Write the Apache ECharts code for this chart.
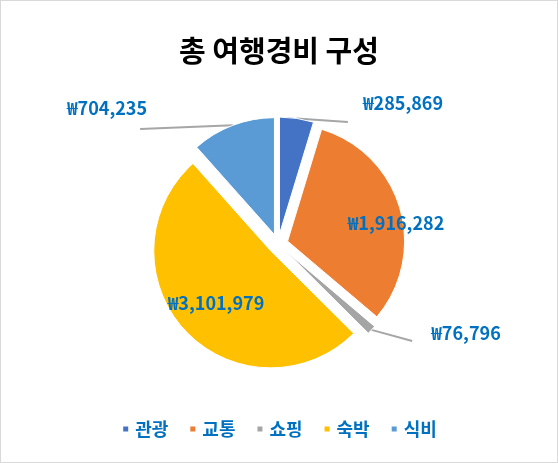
<!DOCTYPE html>
<html><head><meta charset="utf-8">
<script src="https://cdn.jsdelivr.net/npm/echarts@6/dist/echarts.min.js"></script>
<style>html,body{margin:0;padding:0;background:#fff}#c{width:558px;height:463px;box-sizing:border-box;border:1px solid #D9D9D9}</style>
</head><body><div id="c"></div>
<script>
const categories = ['관광', '교통', '쇼핑', '숙박', '식비'];
const values = [285869, 1916282, 76796, 3101979, 704235];
const colors = ['#4472C4', '#ED7D31', '#A5A5A5', '#FFC000', '#5B9BD5'];
const titleText = '총 여행경비 구성';

// label placement (layout only): label centre, and leader-line end relative to label box
const labelPos = [[402, 102], [395, 222], [465, 332], [215, 302], [106, 107]];
const outside = [true, false, true, false, true];
const lineEnd = [['left', -15, 19], null, ['left', -19, 8], null, ['right', -7, 21]];

const chart = echarts.init(document.getElementById('c'), null, {renderer: 'canvas'});
const FONT = '"Noto Sans CJK KR", "Noto Sans", sans-serif';
const fmt = v => '₩' + v.toLocaleString('en-US');
const CENTER = [277, 243], R = 117, OFF = 10;

chart.setOption({
  animation: false,
  title: {
    text: titleText, left: 'center', top: 30,
    textStyle: {fontFamily: FONT, fontSize: 29, fontWeight: 'bold', color: '#000'}
  },
  legend: {
    bottom: 19, left: 'center', icon: 'rect', itemWidth: 7, itemHeight: 7, itemGap: 20,
    selectedMode: false,
    textStyle: {fontFamily: FONT, fontSize: 18, fontWeight: 'bold', color: '#0070C0', padding: [0, 0, 0, 1]},
    data: categories
  },
  series: [{
    type: 'pie',
    center: CENTER,
    radius: R,
    startAngle: 90,
    clockwise: true,
    selectedMode: 'multiple',
    selectedOffset: OFF,
    emphasis: {disabled: true},
    itemStyle: {borderColor: '#fff', borderWidth: 1},
    select: {itemStyle: {borderColor: '#fff', borderWidth: 1}},
    label: {show: false},
    labelLine: {show: false},
    data: categories.map((c, i) => ({
      name: c, value: values[i], selected: true,
      itemStyle: {color: colors[i]}
    }))
  }, {
    // transparent twin that carries the labels; its radius reaches the exploded rim
    type: 'pie',
    center: CENTER,
    radius: R + OFF,
    startAngle: 90,
    clockwise: true,
    silent: true,
    legendHoverLink: false,
    avoidLabelOverlap: false,
    emphasis: {disabled: true},
    itemStyle: {color: 'rgba(0,0,0,0)'},
    label: {
      show: true, formatter: p => fmt(p.value),
      fontFamily: FONT, fontSize: 18, fontWeight: 'bold', color: '#0070C0'
    },
    labelLine: {show: true, lineStyle: {color: '#A6A6A6', width: 2}, length: 15, length2: 20},
    labelLayout: function (p) {
      const i = p.dataIndex;
      const pos = labelPos[i];
      const out = {x: pos[0], y: pos[1], align: 'center', verticalAlign: 'middle'};
      if (lineEnd[i] && p.labelLinePoints) {
        const w = p.labelRect.width;
        const e = lineEnd[i];
        const ex = e[0] === 'left' ? pos[0] - w / 2 + e[1] : pos[0] + w / 2 + e[1];
        out.labelLinePoints = [p.labelLinePoints[0], [ex, pos[1] + e[2]]];
      }
      return out;
    },
    data: categories.map((c, i) => ({
      name: c, value: values[i],
      label: {position: outside[i] ? 'outside' : 'inside'},
      labelLine: {show: outside[i]}
    }))
  }]
});
</script></body></html>
